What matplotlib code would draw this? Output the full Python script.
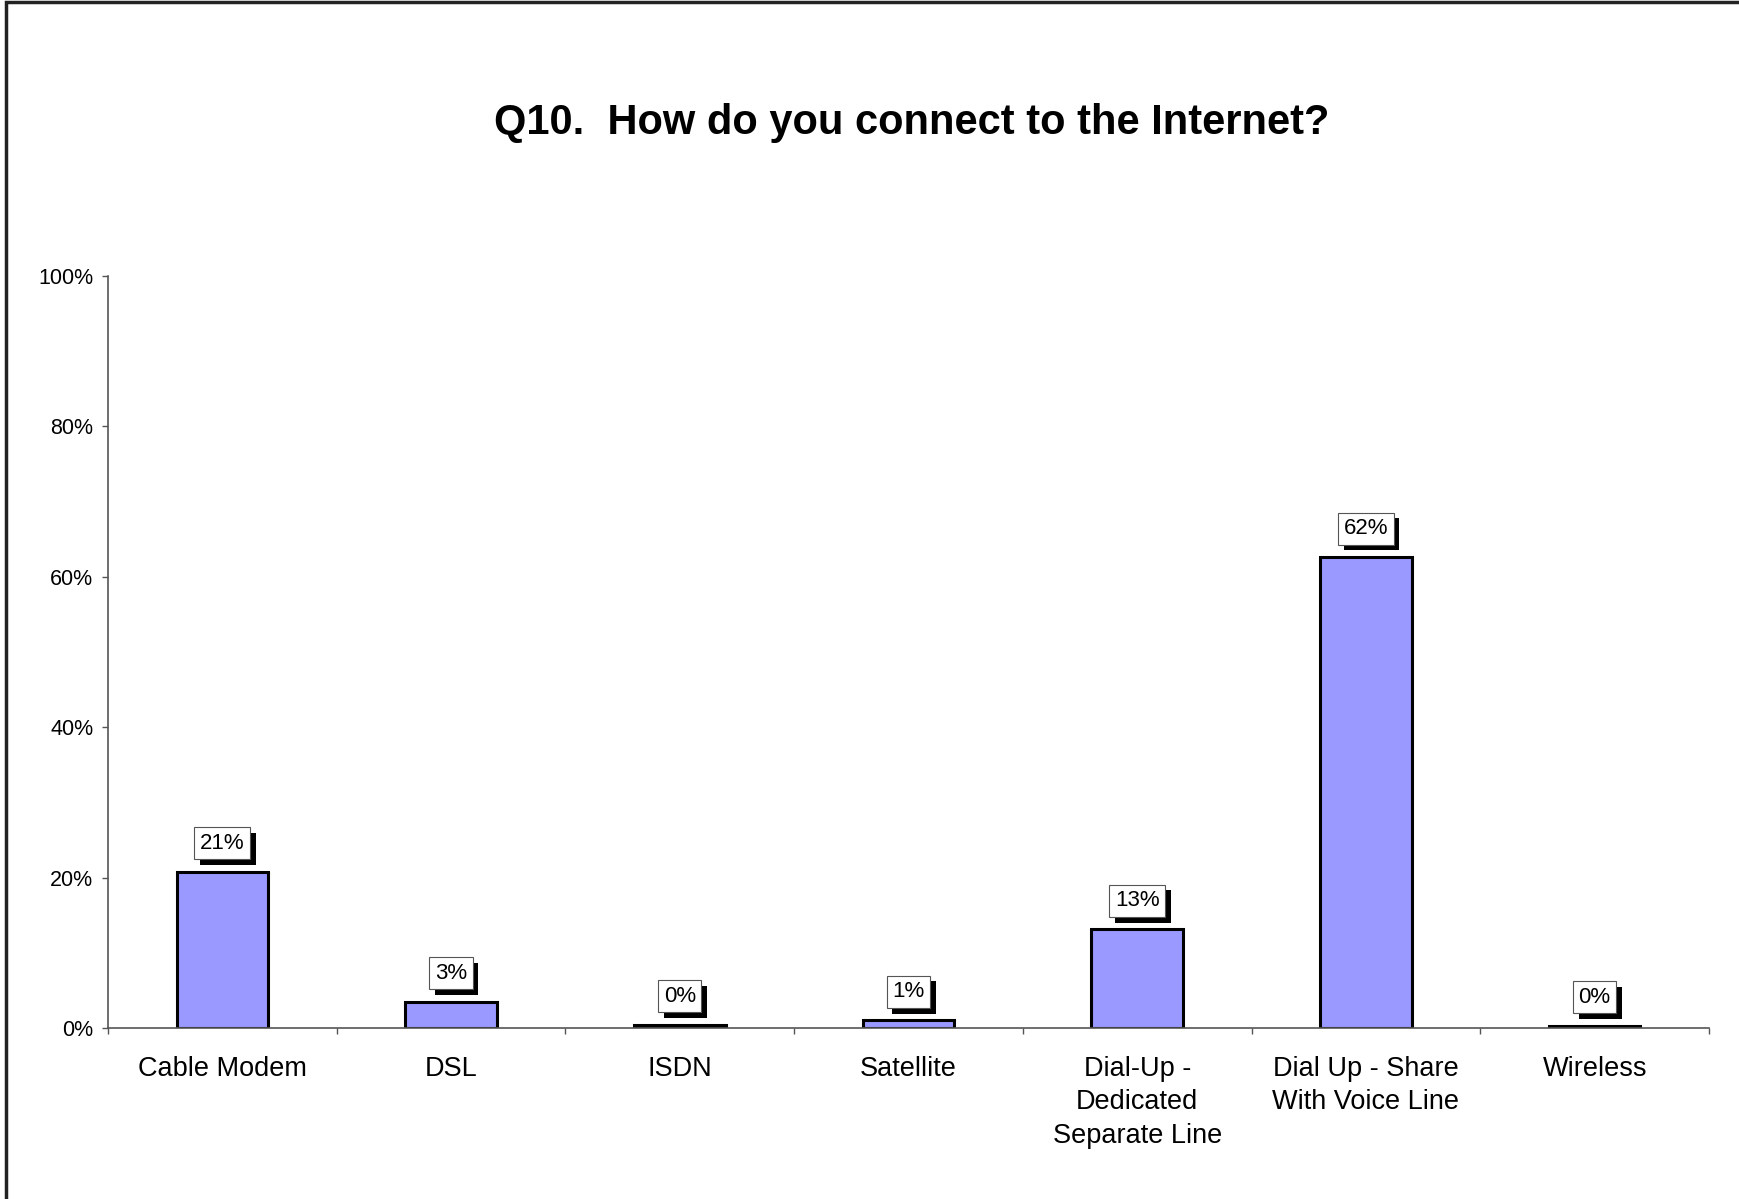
import numpy as np
import matplotlib.pyplot as plt
import matplotlib.patheffects as pe
from matplotlib.patches import Rectangle
from matplotlib.ticker import FuncFormatter

plt.rcParams['font.family'] = ['Liberation Sans', 'DejaVu Sans']

categories = ["Cable Modem", "DSL", "ISDN", "Satellite",
              "Dial-Up -\nDedicated\nSeparate Line",
              "Dial Up - Share\nWith Voice Line", "Wireless"]
values = [0.208, 0.035, 0.004, 0.010, 0.131, 0.626, 0.003]
labels = ["21%", "3%", "0%", "1%", "13%", "62%", "0%"]
title = "Q10.  How do you connect to the Internet?"

fig = plt.figure(figsize=(17.4, 11.99), dpi=100)
ax = fig.add_axes([108 / 1740, 1 - 1028 / 1199, (1709 - 108) / 1740, (1028 - 276) / 1199])

x = np.arange(len(categories))
ax.bar(x, values, width=0.4, color="#9999FF", edgecolor="black", linewidth=2.2, zorder=2)

for xi, v, lab in zip(x, values, labels):
    t = ax.annotate(lab, (xi, v), xytext=(0, 13), textcoords="offset points",
                    ha="center", va="bottom", fontsize=16, color="black",
                    bbox=dict(boxstyle="square,pad=0.25", fc="white", ec="#555555", lw=0.8),
                    zorder=4)
    t.get_bbox_patch().set_path_effects([
        pe.SimplePatchShadow(offset=(4, -4), shadow_rgbFace="black", alpha=1.0),
        pe.Normal()])

ax.set_xlim(-0.5, len(categories) - 0.5)
ax.set_ylim(0, 1.0)
ax.set_yticks([0, 0.2, 0.4, 0.6, 0.8, 1.0])
ax.yaxis.set_major_formatter(FuncFormatter(lambda v, p: "%d%%" % round(v * 100)))
ax.tick_params(axis="y", direction="out", length=4.5, width=1, color="#555555",
               labelsize=15.5, pad=6)

ax.set_xticks(np.arange(-0.5, len(categories), 1.0))
ax.set_xticklabels([])
ax.tick_params(axis="x", direction="out", length=4.5, width=1, color="#555555")
ax.set_xticks(x, minor=True)
ax.set_xticklabels(categories, minor=True, fontsize=19.5, linespacing=1.38, va="top")
ax.tick_params(axis="x", which="minor", length=0, pad=20)

for s in ["top", "right"]:
    ax.spines[s].set_visible(False)
for s in ["left", "bottom"]:
    ax.spines[s].set_color("#555555")
    ax.spines[s].set_linewidth(1.2)

fig.text(912 / 1740, 1 - 123 / 1199, title, ha="center", va="center",
         fontsize=30, fontweight="bold")

fig.patches.append(Rectangle((6.5 / 1740, -0.05), 1.1, 1.05 - 2 / 1199,
                             transform=fig.transFigure, fill=False,
                             ec="#222222", lw=2.5))

fig.savefig("out.png", dpi=100, facecolor="white")
